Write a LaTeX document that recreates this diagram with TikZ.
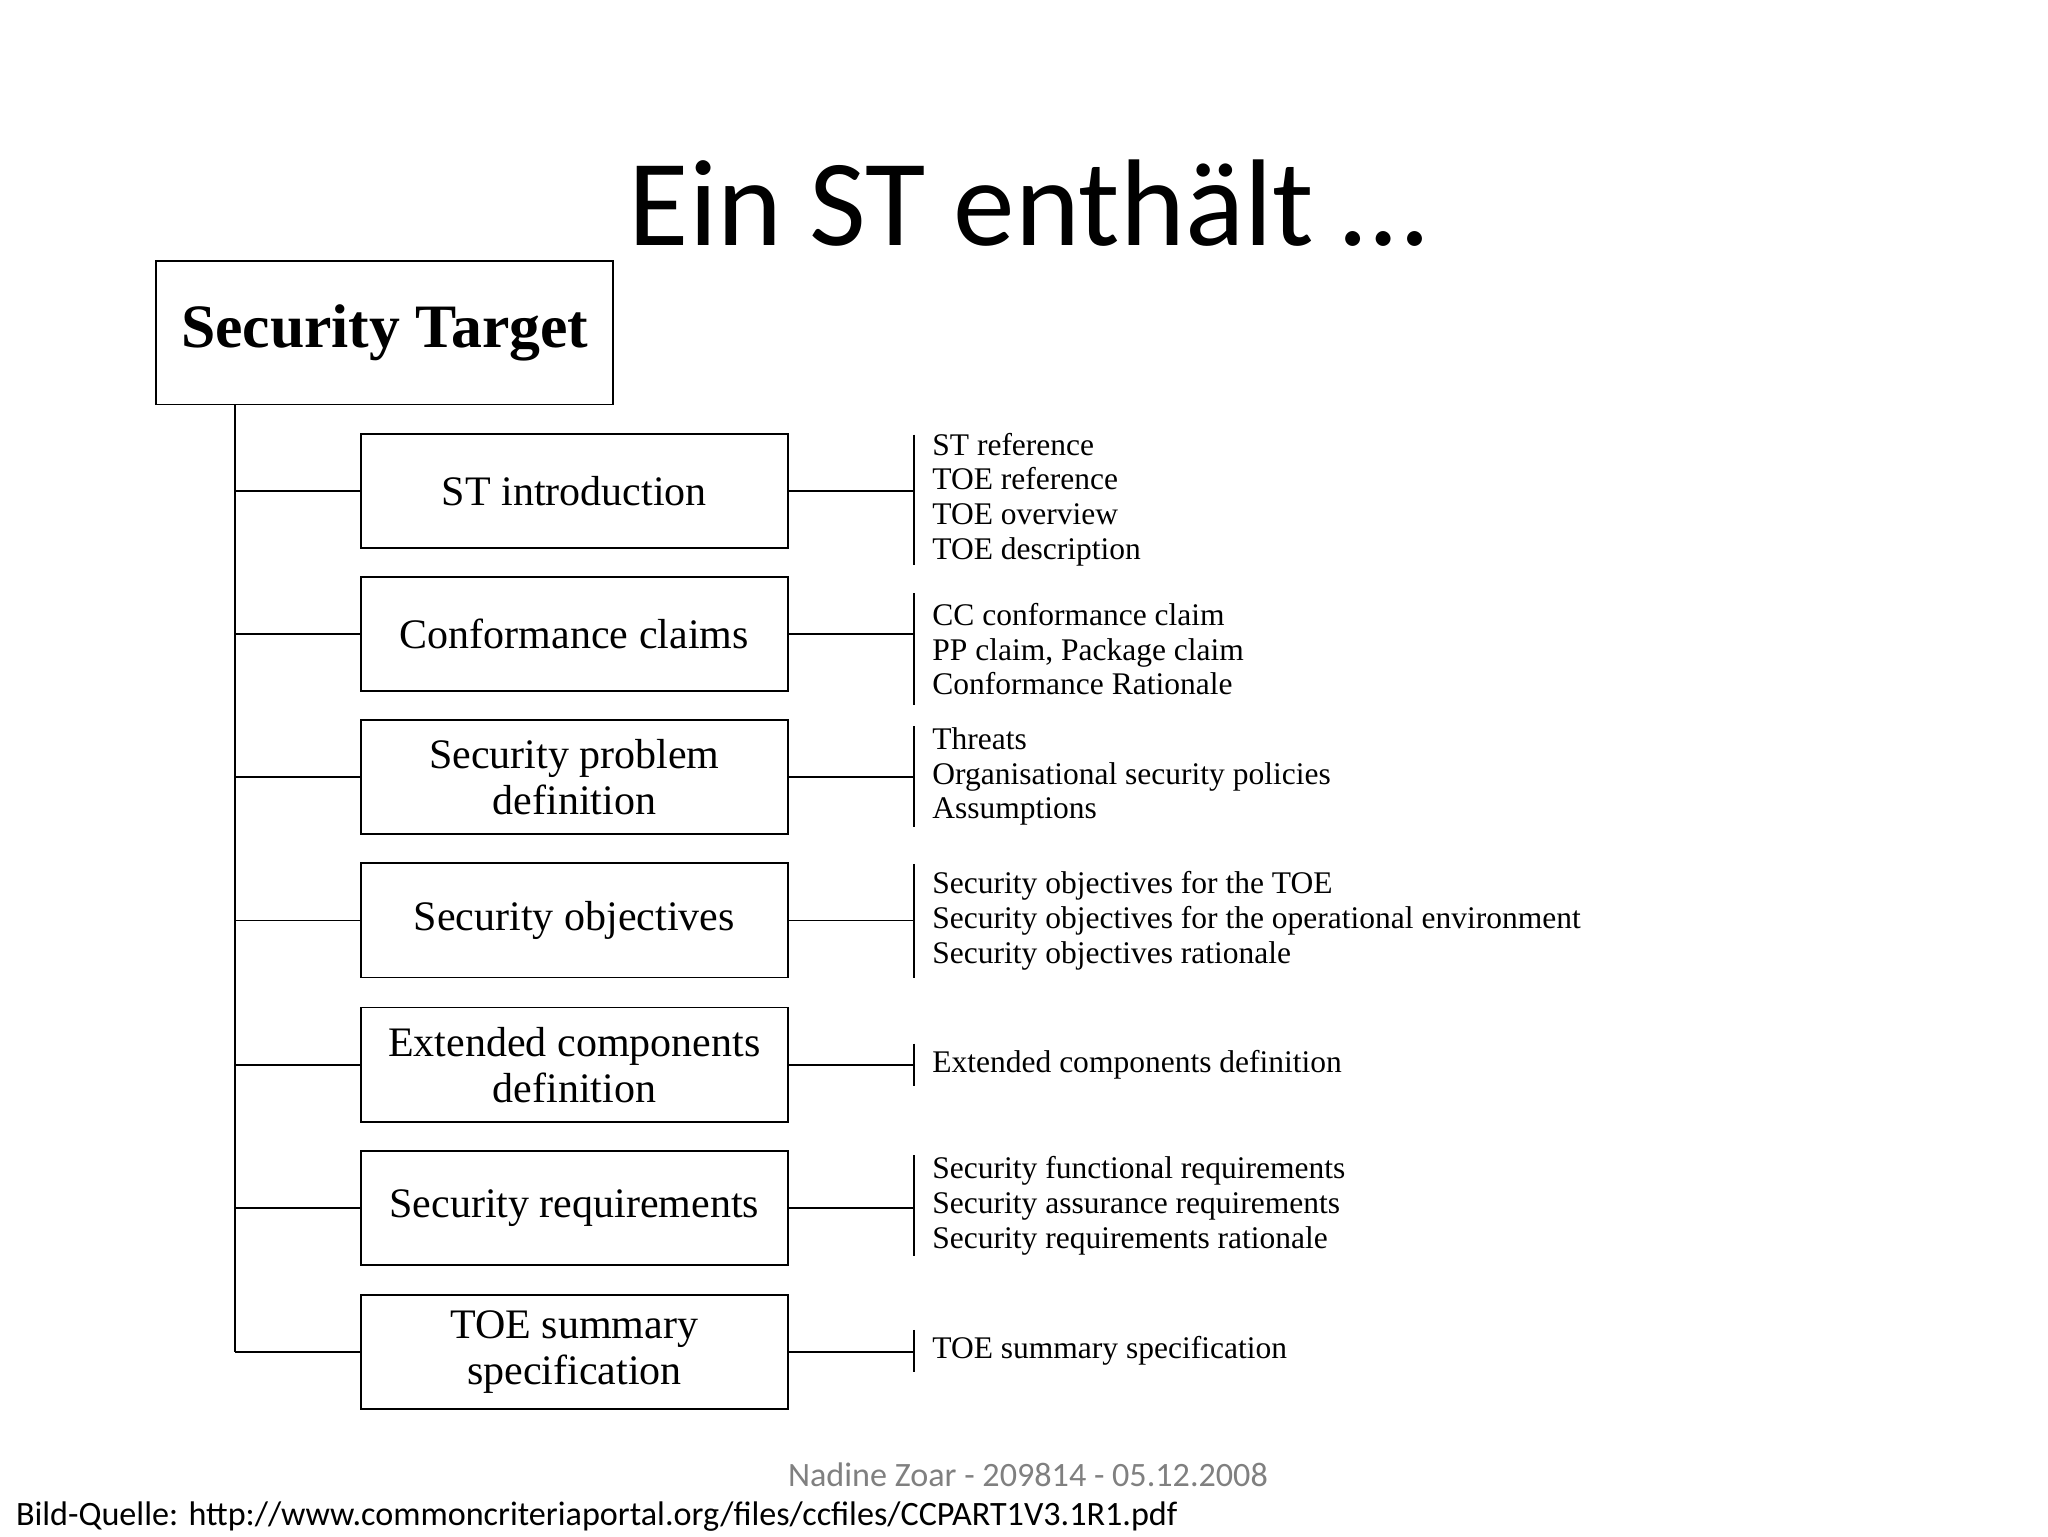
\documentclass[tikz,border=0pt]{standalone}
\usepackage{fontspec}
\setmainfont{Liberation Serif}
\newfontfamily\calfont{Carlito}
\begin{document}
\begin{tikzpicture}[x=1pt,y=-1pt,
  sec/.style={draw,line width=1.3pt,minimum width=325pt,minimum height=87pt,align=center,font=\fontsize{32}{35}\selectfont,inner sep=0pt},
  item/.style={anchor=west,align=left,font=\fontsize{24}{26.5}\selectfont,inner sep=0pt},
  ln/.style={line width=1.2pt}]
\useasboundingbox (0,0) rectangle (1560,1170);
\node (title) at (783,155) {\calfont\fontsize{94}{110}\selectfont Ein ST enthält …};
\node[draw,line width=1.3pt,minimum width=348pt,minimum height=109pt,inner sep=0pt,font=\bfseries\fontsize{47}{50}\selectfont] (st) at (293,253.5) {Security Target};
\coordinate (trtop) at (179,308);
\coordinate (trbot) at (179,1030);
\draw[ln] (trtop) -- (trbot);
\foreach \n/\y/\t/\a/\b/\items in {
 a/374/{ST introduction}/331/430/{ST reference\\TOE reference\\TOE overview\\TOE description},
 b/483/{Conformance claims}/452/537/{CC conformance claim\\PP claim, Package claim\\Conformance Rationale},
 c/592/{Security problem\\definition}/553/630/{Threats\\Organisational security policies\\Assumptions},
 d/701/{Security objectives}/658/745/{Security objectives for the TOE\\Security objectives for the operational environment\\Security objectives rationale},
 e/811/{Extended components\\definition}/795/827/{Extended components definition},
 f/920/{Security requirements}/880/957/{Security functional requirements\\Security assurance requirements\\Security requirements rationale},
 g/1030/{TOE summary\\specification}/1013/1045/{TOE summary specification}}{
  \node[sec] (box\n) at (437.5,\y) {\t};
  \coordinate (tr\n) at (179,\y);
  \coordinate (br\n) at (696,\y);
  \coordinate (bt\n) at (696,\a);
  \coordinate (bb\n) at (696,\b);
  \draw[ln] (tr\n) -- (box\n.west);
  \draw[ln] (box\n.east) -- (br\n);
  \draw[ln] (bt\n) -- (bb\n);
  \node[item] (it\n) at (710,{(\a+\b)/2}) {\items};
}
\node[text=gray,font=\calfont\fontsize{26}{28}\selectfont] (auth) at (783,1123) {Nadine Zoar - 209814 - 05.12.2008};
\node[anchor=west,inner sep=0pt,font=\calfont\fontsize{26}{28}\selectfont] (src) at (12,1155) {Bild-Quelle: http://www.commoncriteriaportal.org/files/ccfiles/CCPART1V3.1R1.pdf};
\end{tikzpicture}
\end{document}
